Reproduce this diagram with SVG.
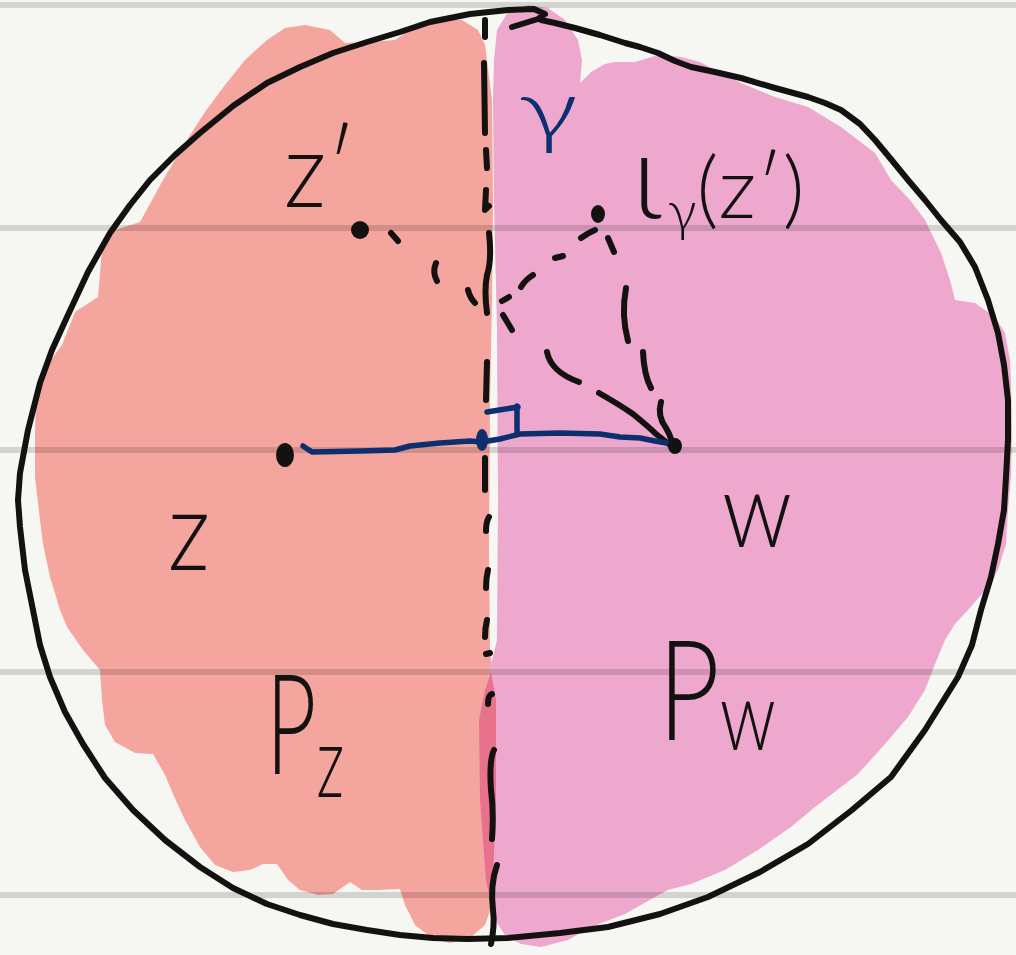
<svg xmlns="http://www.w3.org/2000/svg" width="1016" height="955" viewBox="0 0 1016 955">
<style>
.ink{fill:none;stroke:#141210;stroke-width:6;stroke-linecap:round;stroke-linejoin:round}
.blue{fill:none;stroke:#0b2f6f;stroke-width:5.5;stroke-linecap:round;stroke-linejoin:round}
.rule{stroke:#000;stroke-opacity:0.14;stroke-width:6}
.lbl{font-family:"Lato","Liberation Sans",sans-serif;font-weight:300;fill:#141210}
.lblb{font-family:"Lato","Liberation Sans",sans-serif;font-weight:300;fill:#0b2f6f}
</style>
<rect width="1016" height="955" fill="#f6f7f2"/>
<g id="regions">
<polygon id="region-pz" fill="#f4a59d" points="485,45 478,30 462,20 440,18 420,22 405,33 395,40 370,42 345,43 330,30 305,25 285,28 267,40 245,60 225,85 205,112 187,140 163,180 140,222 115,230 102,250 98,297 75,312 62,345 45,368 36,400 35,433 35,477 40,520 43,544 50,577 60,610 67,627 83,650 100,670 102,700 105,725 115,742 135,753 153,754 165,775 173,794 185,820 200,847 215,865 233,872 250,870 263,864 277,864 288,880 300,890 318,895 333,894 350,882 362,890 377,890 400,889 405,905 415,925 433,939 450,943 470,938 485,925 492,905 496,800 496,700 490,650 489,550 490,400 492,300 493,200 492,100"/>
<polygon id="region-pw" fill="#eea8cd" points="494,60 497,30 508,12 528,5 548,8 565,20 578,40 582,60 580,83 591,72 605,64 615,62 635,62 658,55 681,57 700,62 715,70 741,83 775,97 808,107 841,127 875,153 891,180 910,200 925,220 941,253 950,280 955,300 975,303 995,317 1005,333 1010,360 1011,383 1012,430 1011,477 1008,510 1006,544 998,570 988,587 968,610 955,624 945,640 935,664 925,690 908,717 885,744 858,774 815,807 791,827 758,850 725,870 691,884 668,890 655,897 625,914 591,927 568,940 541,947 521,944 505,935 495,920 485,880 480,800 479,720 485,690 497,640 498,500 497,330 494,200 493,100"/>
<polygon id="region-overlap" fill="#e8728b" points="479,720 485,690 491,672 496,700 496,800 492,905 486,882 480,800"/>
</g>
<g id="rules">
<line class="rule" x1="0" y1="5" x2="1016" y2="5"/>
<line class="rule" x1="0" y1="228" x2="1016" y2="228"/>
<line class="rule" x1="0" y1="450" x2="1016" y2="450"/>
<line class="rule" x1="0" y1="672" x2="1016" y2="672"/>
<line class="rule" x1="0" y1="895" x2="1016" y2="895"/>
</g>
<g id="boundary-circle">
<polyline class="ink" stroke-width="7" points="512,27 538,19 545,14 534,9 508,10 470,14 430,22 400,32 367,42 333,53 300,67 267,83 233,106 200,133 175,155 150,180 130,205 110,233 88,272 67,317 52,350 40,383 28,430 20,473 18,500 20,527 25,570 33,610 40,645 50,677 65,712 83,744 105,778 133,810 165,840 200,867 233,888 267,904 300,915 333,924 367,930 400,935 433,938 467,939 508,938 560,933 608,927 660,914 708,897 760,872 808,844 852,810 891,777 925,730 958,677 972,645 981,610 991,577 998,544 1004,510 1006,477 1008,440 1008,400 1004,365 998,333 988,300 975,267 960,242 941,220 925,200 908,180 890,158 875,140 860,124 841,110 825,103 808,97 775,88 741,78 715,72 691,67 675,61 658,53 640,47 625,43 600,35 575,28 555,23 541,20"/>
</g>
<g id="connectors">
<g id="geodesic-gamma">
<path class="ink" d="M485,20 L485,37"/>
<path class="ink" stroke-width="8" d="M484,63 L485,133"/>
<path class="ink" d="M486,150 L487,168"/>
<path class="ink" d="M486,190 L485,210 L489,206"/>
<path class="ink" d="M489,233 Q492,260 487,275 Q484,290 487,313"/>
<path class="ink" d="M487,362 L486,400"/>
<path class="ink" d="M485,458 L485,490"/>
<path class="ink" d="M489,517 Q486,522 486,531"/>
<path class="ink" d="M488,570 Q486,578 486,588"/>
<path class="ink" d="M487,620 Q485,628 485,637"/>
<path class="ink" d="M486,654 L490,653"/>
<path class="ink" d="M492,694 Q488,695 488,704"/>
<path class="ink" d="M494,750 Q489,760 491,790 Q494,812 492,839"/>
<path class="ink" d="M497,865 Q490,885 493,910 Q495,925 491,944"/>
</g>
<g id="arc-zprime">
<path class="ink" d="M391,233 L398,241"/>
<path class="ink" d="M436,263 Q432,272 437,281"/>
<path class="ink" d="M468,290 Q470,298 475,303"/>
<path class="ink" d="M502,301 L509,297"/>
<path class="ink" d="M521,287 Q525,280 533,275"/>
<path class="ink" d="M555,258 L563,256"/>
<path class="ink" d="M581,238 Q588,233 595,230"/>
</g>
<g id="arc-iota-w">
<path class="ink" d="M608,238 L614,252"/>
<path class="ink" d="M626,288 Q621,315 628,341"/>
<path class="ink" d="M643,352 Q644,375 651,388"/>
<path class="ink" d="M661,402 Q657,416 666,428 Q673,440 672,447"/>
</g>
<g id="arc-cross-w">
<path class="ink" d="M503,315 L512,330"/>
<path class="ink" d="M547,352 Q551,372 579,382"/>
<path class="ink" d="M599,393 Q620,405 633,414 Q650,428 656,434 L670,445"/>
</g>
<g id="geodesic-zw">
<path class="blue" d="M303,446 L312,452 L360,451 L395,450 L410,446 L440,443 L470,441 L482,442 L500,439 L520,434 L560,433 L600,434 L620,437 L640,438 L655,441 L672,444"/>
<path class="blue" d="M487,412 L518,407 M517,406 L517,434"/>
<ellipse cx="482" cy="440" rx="6" ry="11" fill="#0b2f6f"/>
</g>
</g>
<g id="node-z">
<ellipse cx="285" cy="455" rx="9" ry="12" fill="#141210"/>
<text class="lbl" x="168" y="570" font-size="110" textLength="42" lengthAdjust="spacingAndGlyphs">z</text>
</g>
<g id="node-zprime">
<ellipse cx="360" cy="230" rx="9" ry="9" fill="#141210"/>
<text class="lbl" x="284" y="207" font-size="105" textLength="72" lengthAdjust="spacingAndGlyphs">z′</text>
</g>
<g id="node-iota">
<ellipse cx="598" cy="214" rx="7" ry="9" fill="#141210"/>
<text class="lbl" x="632" y="218"><tspan font-size="120">ι</tspan><tspan font-size="55" dy="12" dx="6">γ</tspan><tspan font-size="85" dy="-12">(z′)</tspan></text>
</g>
<g id="node-w">
<ellipse cx="675" cy="446" rx="7" ry="8" fill="#141210"/>
<text class="lbl" x="722" y="547" font-size="105" textLength="70" lengthAdjust="spacingAndGlyphs">w</text>
</g>
<g id="label-gamma">
<text class="lblb" x="518" y="138" font-size="82" textLength="60" lengthAdjust="spacingAndGlyphs">γ</text>
</g>
<g id="label-pz">
<text class="lbl" x="266" y="774" textLength="78" lengthAdjust="spacingAndGlyphs"><tspan font-size="140">P</tspan><tspan font-size="100" dy="23">z</tspan></text>
</g>
<g id="label-pw">
<text class="lbl" x="658" y="740" textLength="118" lengthAdjust="spacingAndGlyphs"><tspan font-size="140">P</tspan><tspan font-size="96" dy="10">w</tspan></text>
</g>
</svg>
